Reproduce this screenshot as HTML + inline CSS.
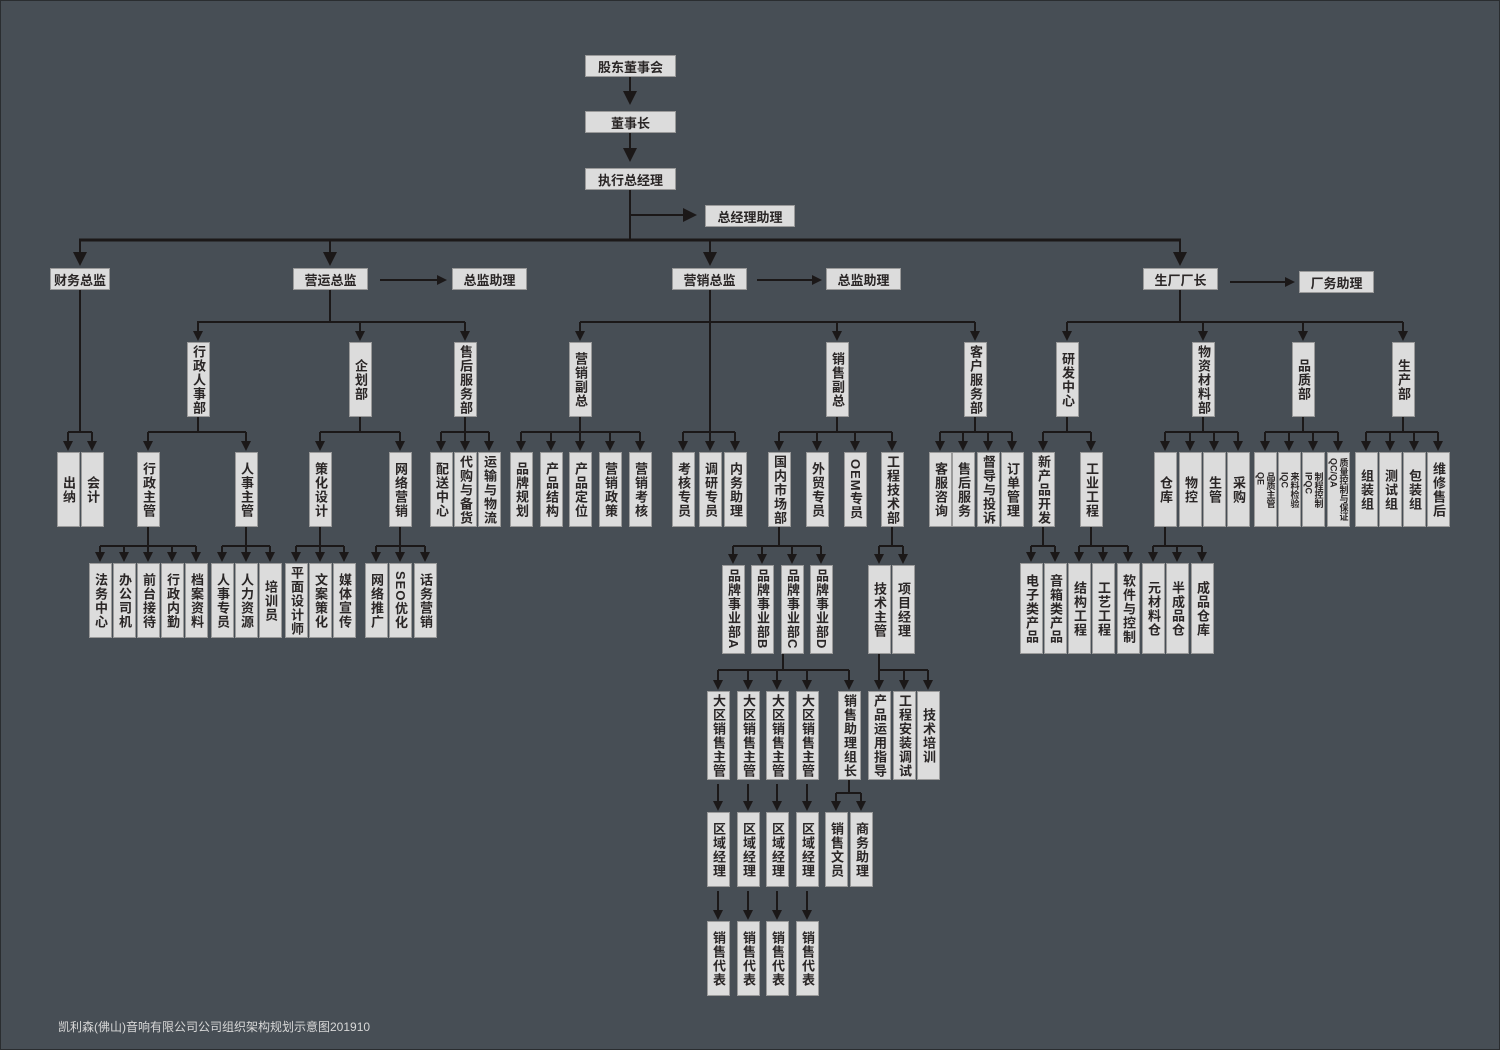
<!DOCTYPE html>
<html><head><meta charset="utf-8"><style>
body{margin:0;width:1500px;height:1050px;background:#474e55;overflow:hidden;position:relative;font-family:"Liberation Sans","Noto Sans CJK SC",sans-serif}
.f{position:absolute;left:0;top:0;width:1498px;height:1048px;border:1px solid #2a2d30}
.h,.b{position:absolute;background:#dcdcdc;border:1px solid #9a9a9a;color:#2a2626;font-weight:bold;box-sizing:border-box;display:flex;align-items:center;justify-content:center}
.h{height:22px;font-size:13px}
.b{width:23px;height:75px;writing-mode:vertical-rl;font-size:13px;line-height:21px;letter-spacing:1px;top:452px}
.s{font-size:9px;line-height:10px;letter-spacing:0}
svg{position:absolute;left:0;top:0}
.ft{position:absolute;left:58px;top:1018px;color:#d8d8d8;font-size:12px}
</style></head><body><div class="f"></div>
<svg width="1500" height="1050">
<defs><marker id="a" markerWidth="10" markerHeight="10" refX="5" refY="5" orient="auto" markerUnits="userSpaceOnUse"><path d="M0,0L10,5L0,10z" fill="#1b1818"/></marker>
<marker id="A" markerWidth="14" markerHeight="14" refX="7" refY="7" orient="auto" markerUnits="userSpaceOnUse"><path d="M0,0L14,7L0,14z" fill="#1b1818"/></marker></defs>
<g stroke="#1b1818" stroke-width="2" fill="none">
<line x1="630" y1="77" x2="630" y2="98" marker-end="url(#A)"/>
<line x1="630" y1="133" x2="630" y2="155" marker-end="url(#A)"/>
<line x1="630" y1="190" x2="630" y2="240"/>
<line x1="630" y1="215" x2="690" y2="215" marker-end="url(#A)"/>
<line x1="79" y1="240" x2="1181" y2="240" stroke-width="3"/>
<line x1="80" y1="240" x2="80" y2="259" marker-end="url(#A)"/>
<line x1="330" y1="240" x2="330" y2="259" marker-end="url(#A)"/>
<line x1="710" y1="240" x2="710" y2="259" marker-end="url(#A)"/>
<line x1="1180" y1="240" x2="1180" y2="259" marker-end="url(#A)"/>
<line x1="380" y1="280" x2="442" y2="280" marker-end="url(#a)"/>
<line x1="757" y1="280" x2="817" y2="280" marker-end="url(#a)"/>
<line x1="1230" y1="282" x2="1290" y2="282" marker-end="url(#a)"/>
<path d="M330 290V322M197 322H465M580 322H975M1180 290V322M1067 322H1403"/>
<line x1="710" y1="290" x2="710" y2="446" marker-end="url(#a)"/>
<path d="M80 290V432M68 432H92"/>
<path d="M198 416V432M148 432H246M360 416V432M320 432H400M465 416V432M441 432H489M580 416V432M521 432H640M683 432H735M837 416V432M779 432H892M975 416V432M940 432H1012M1067 416V432M1043 432H1091M1203 416V432M1165 432H1238M1303 416V432M1265 432H1338M1403 416V432M1366 432H1438"/>
<path d="M148 527V546M100 546H196M246 527V546M222 546H270M320 527V546M296 546H344M400 527V546M376 546H425M779 527V546M733 546H821M892 527V546M879 546H903M1043 527V546M1031 546H1055M1091 527V546M1079 546H1128M1165 527V546M1153 546H1202"/>
<path d="M783 654V670M718 670H849M879 654V670M879 670H928M849 780V793M836 793H861"/>
</g>
<g stroke="#1b1818" stroke-width="2" marker-end="url(#a)">
<line x1="198" y1="322" x2="198" y2="336"/><line x1="360" y1="322" x2="360" y2="336"/><line x1="465" y1="322" x2="465" y2="336"/>
<line x1="580" y1="322" x2="580" y2="336"/><line x1="837" y1="322" x2="837" y2="336"/><line x1="975" y1="322" x2="975" y2="336"/>
<line x1="1067" y1="322" x2="1067" y2="336"/><line x1="1203" y1="322" x2="1203" y2="336"/><line x1="1303" y1="322" x2="1303" y2="336"/><line x1="1403" y1="322" x2="1403" y2="336"/>
<line x1="68" y1="432" x2="68" y2="446"/><line x1="92" y1="432" x2="92" y2="446"/>
<line x1="148" y1="432" x2="148" y2="446"/><line x1="246" y1="432" x2="246" y2="446"/>
<line x1="320" y1="432" x2="320" y2="446"/><line x1="400" y1="432" x2="400" y2="446"/>
<line x1="441" y1="432" x2="441" y2="446"/><line x1="465" y1="432" x2="465" y2="446"/><line x1="489" y1="432" x2="489" y2="446"/>
<line x1="521" y1="432" x2="521" y2="446"/><line x1="551" y1="432" x2="551" y2="446"/><line x1="580" y1="432" x2="580" y2="446"/><line x1="610" y1="432" x2="610" y2="446"/><line x1="640" y1="432" x2="640" y2="446"/>
<line x1="683" y1="432" x2="683" y2="446"/><line x1="735" y1="432" x2="735" y2="446"/>
<line x1="779" y1="432" x2="779" y2="446"/><line x1="817" y1="432" x2="817" y2="446"/><line x1="855" y1="432" x2="855" y2="446"/><line x1="892" y1="432" x2="892" y2="446"/>
<line x1="940" y1="432" x2="940" y2="446"/><line x1="963" y1="432" x2="963" y2="446"/><line x1="988" y1="432" x2="988" y2="446"/><line x1="1012" y1="432" x2="1012" y2="446"/>
<line x1="1043" y1="432" x2="1043" y2="446"/><line x1="1091" y1="432" x2="1091" y2="446"/>
<line x1="1165" y1="432" x2="1165" y2="446"/><line x1="1190" y1="432" x2="1190" y2="446"/><line x1="1214" y1="432" x2="1214" y2="446"/><line x1="1238" y1="432" x2="1238" y2="446"/>
<line x1="1265" y1="432" x2="1265" y2="446"/><line x1="1289" y1="432" x2="1289" y2="446"/><line x1="1313" y1="432" x2="1313" y2="446"/><line x1="1338" y1="432" x2="1338" y2="446"/>
<line x1="1366" y1="432" x2="1366" y2="446"/><line x1="1390" y1="432" x2="1390" y2="446"/><line x1="1414" y1="432" x2="1414" y2="446"/><line x1="1438" y1="432" x2="1438" y2="446"/>
<line x1="100" y1="546" x2="100" y2="557"/><line x1="124" y1="546" x2="124" y2="557"/><line x1="148" y1="546" x2="148" y2="557"/><line x1="172" y1="546" x2="172" y2="557"/><line x1="196" y1="546" x2="196" y2="557"/>
<line x1="222" y1="546" x2="222" y2="557"/><line x1="246" y1="546" x2="246" y2="557"/><line x1="270" y1="546" x2="270" y2="557"/>
<line x1="296" y1="546" x2="296" y2="557"/><line x1="320" y1="546" x2="320" y2="557"/><line x1="344" y1="546" x2="344" y2="557"/>
<line x1="376" y1="546" x2="376" y2="557"/><line x1="400" y1="546" x2="400" y2="557"/><line x1="425" y1="546" x2="425" y2="557"/>
<line x1="733" y1="546" x2="733" y2="559"/><line x1="762" y1="546" x2="762" y2="559"/><line x1="792" y1="546" x2="792" y2="559"/><line x1="821" y1="546" x2="821" y2="559"/>
<line x1="879" y1="546" x2="879" y2="559"/><line x1="903" y1="546" x2="903" y2="559"/>
<line x1="1031" y1="546" x2="1031" y2="557"/><line x1="1055" y1="546" x2="1055" y2="557"/>
<line x1="1079" y1="546" x2="1079" y2="557"/><line x1="1103" y1="546" x2="1103" y2="557"/><line x1="1128" y1="546" x2="1128" y2="557"/>
<line x1="1153" y1="546" x2="1153" y2="557"/><line x1="1177" y1="546" x2="1177" y2="557"/><line x1="1202" y1="546" x2="1202" y2="557"/>
<line x1="718" y1="670" x2="718" y2="685"/><line x1="748" y1="670" x2="748" y2="685"/><line x1="777" y1="670" x2="777" y2="685"/><line x1="807" y1="670" x2="807" y2="685"/><line x1="849" y1="670" x2="849" y2="685"/>
<line x1="879" y1="670" x2="879" y2="685"/><line x1="904" y1="670" x2="904" y2="685"/><line x1="928" y1="670" x2="928" y2="685"/>
<line x1="718" y1="784" x2="718" y2="806"/><line x1="748" y1="784" x2="748" y2="806"/><line x1="777" y1="784" x2="777" y2="806"/><line x1="807" y1="784" x2="807" y2="806"/>
<line x1="836" y1="793" x2="836" y2="806"/><line x1="861" y1="793" x2="861" y2="806"/>
<line x1="718" y1="891" x2="718" y2="915"/><line x1="748" y1="891" x2="748" y2="915"/><line x1="777" y1="891" x2="777" y2="915"/><line x1="807" y1="891" x2="807" y2="915"/>
</g></svg>

<div class="h" style="left:585px;top:55px;width:91px">股东董事会</div>
<div class="h" style="left:585px;top:111px;width:91px">董事长</div>
<div class="h" style="left:585px;top:168px;width:91px">执行总经理</div>
<div class="h" style="left:705px;top:205px;width:90px">总经理助理</div>
<div class="h" style="left:50px;top:268px;width:60px">财务总监</div>
<div class="h" style="left:293px;top:268px;width:75px">营运总监</div>
<div class="h" style="left:452px;top:268px;width:75px">总监助理</div>
<div class="h" style="left:672px;top:268px;width:75px">营销总监</div>
<div class="h" style="left:826px;top:268px;width:75px">总监助理</div>
<div class="h" style="left:1143px;top:268px;width:75px">生厂厂长</div>
<div class="h" style="left:1299px;top:271px;width:75px">厂务助理</div>

<div class="b" style="left:187px;top:342px">行政人事部</div>
<div class="b" style="left:349px;top:342px">企划部</div>
<div class="b" style="left:454px;top:342px">售后服务部</div>
<div class="b" style="left:569px;top:342px">营销副总</div>
<div class="b" style="left:826px;top:342px">销售副总</div>
<div class="b" style="left:964px;top:342px">客户服务部</div>
<div class="b" style="left:1056px;top:342px">研发中心</div>
<div class="b" style="left:1192px;top:342px">物资材料部</div>
<div class="b" style="left:1292px;top:342px">品质部</div>
<div class="b" style="left:1392px;top:342px">生产部</div>

<div class="b" style="left:57px">出纳</div>
<div class="b" style="left:81px">会计</div>
<div class="b" style="left:137px">行政主管</div>
<div class="b" style="left:235px">人事主管</div>
<div class="b" style="left:309px">策化设计</div>
<div class="b" style="left:389px">网络营销</div>
<div class="b" style="left:430px">配送中心</div>
<div class="b" style="left:454px">代购与备货</div>
<div class="b" style="left:478px">运输与物流</div>
<div class="b" style="left:510px">品牌规划</div>
<div class="b" style="left:540px">产品结构</div>
<div class="b" style="left:569px">产品定位</div>
<div class="b" style="left:599px">营销政策</div>
<div class="b" style="left:629px">营销考核</div>
<div class="b" style="left:672px">考核专员</div>
<div class="b" style="left:699px">调研专员</div>
<div class="b" style="left:724px">内务助理</div>
<div class="b" style="left:768px">国内市场部</div>
<div class="b" style="left:806px">外贸专员</div>
<div class="b" style="left:844px">OEM专员</div>
<div class="b" style="left:881px">工程技术部</div>
<div class="b" style="left:929px">客服咨询</div>
<div class="b" style="left:952px">售后服务</div>
<div class="b" style="left:977px">督导与投诉</div>
<div class="b" style="left:1001px">订单管理</div>
<div class="b" style="left:1032px">新产品开发</div>
<div class="b" style="left:1080px">工业工程</div>
<div class="b" style="left:1154px">仓库</div>
<div class="b" style="left:1179px">物控</div>
<div class="b" style="left:1203px">生管</div>
<div class="b" style="left:1227px">采购</div>
<div class="b s" style="left:1254px">品质主管<br>QE</div>
<div class="b s" style="left:1278px">来料检验<br>IQC</div>
<div class="b s" style="left:1302px">制程控制<br>IPQC</div>
<div class="b s" style="left:1327px">质量控制与保证<br>QC/QA</div>
<div class="b" style="left:1355px">组装组</div>
<div class="b" style="left:1379px">测试组</div>
<div class="b" style="left:1403px">包装组</div>
<div class="b" style="left:1427px">维修售后</div>

<div class="b" style="left:89px;top:563px">法务中心</div>
<div class="b" style="left:113px;top:563px">办公司机</div>
<div class="b" style="left:137px;top:563px">前台接待</div>
<div class="b" style="left:161px;top:563px">行政内勤</div>
<div class="b" style="left:185px;top:563px">档案资料</div>
<div class="b" style="left:211px;top:563px">人事专员</div>
<div class="b" style="left:235px;top:563px">人力资源</div>
<div class="b" style="left:259px;top:563px">培训员</div>
<div class="b" style="left:285px;top:563px">平面设计师</div>
<div class="b" style="left:309px;top:563px">文案策化</div>
<div class="b" style="left:333px;top:563px">媒体宣传</div>
<div class="b" style="left:365px;top:563px">网络推广</div>
<div class="b" style="left:389px;top:563px">SEO优化</div>
<div class="b" style="left:414px;top:563px">话务营销</div>
<div class="b" style="left:722px;top:565px;height:89px">品牌事业部A</div>
<div class="b" style="left:751px;top:565px;height:89px">品牌事业部B</div>
<div class="b" style="left:781px;top:565px;height:89px">品牌事业部C</div>
<div class="b" style="left:810px;top:565px;height:89px">品牌事业部D</div>
<div class="b" style="left:868px;top:565px;height:89px">技术主管</div>
<div class="b" style="left:892px;top:565px;height:89px">项目经理</div>
<div class="b" style="left:1020px;top:563px;height:91px">电子类产品</div>
<div class="b" style="left:1044px;top:563px;height:91px">音箱类产品</div>
<div class="b" style="left:1068px;top:563px;height:91px">结构工程</div>
<div class="b" style="left:1092px;top:563px;height:91px">工艺工程</div>
<div class="b" style="left:1117px;top:563px;height:91px">软件与控制</div>
<div class="b" style="left:1142px;top:563px;height:91px">元材料仓</div>
<div class="b" style="left:1166px;top:563px;height:91px">半成品仓</div>
<div class="b" style="left:1191px;top:563px;height:91px">成品仓库</div>

<div class="b" style="left:707px;top:691px;height:89px">大区销售主管</div>
<div class="b" style="left:737px;top:691px;height:89px">大区销售主管</div>
<div class="b" style="left:766px;top:691px;height:89px">大区销售主管</div>
<div class="b" style="left:796px;top:691px;height:89px">大区销售主管</div>
<div class="b" style="left:838px;top:691px;height:89px">销售助理组长</div>
<div class="b" style="left:868px;top:691px;height:89px">产品运用指导</div>
<div class="b" style="left:893px;top:691px;height:89px">工程安装调试</div>
<div class="b" style="left:917px;top:691px;height:89px">技术培训</div>

<div class="b" style="left:707px;top:812px">区域经理</div>
<div class="b" style="left:737px;top:812px">区域经理</div>
<div class="b" style="left:766px;top:812px">区域经理</div>
<div class="b" style="left:796px;top:812px">区域经理</div>
<div class="b" style="left:825px;top:812px">销售文员</div>
<div class="b" style="left:850px;top:812px">商务助理</div>
<div class="b" style="left:707px;top:921px">销售代表</div>
<div class="b" style="left:737px;top:921px">销售代表</div>
<div class="b" style="left:766px;top:921px">销售代表</div>
<div class="b" style="left:796px;top:921px">销售代表</div>

<div class="ft">凯利森(佛山)音响有限公司公司组织架构规划示意图201910</div>
</body></html>
